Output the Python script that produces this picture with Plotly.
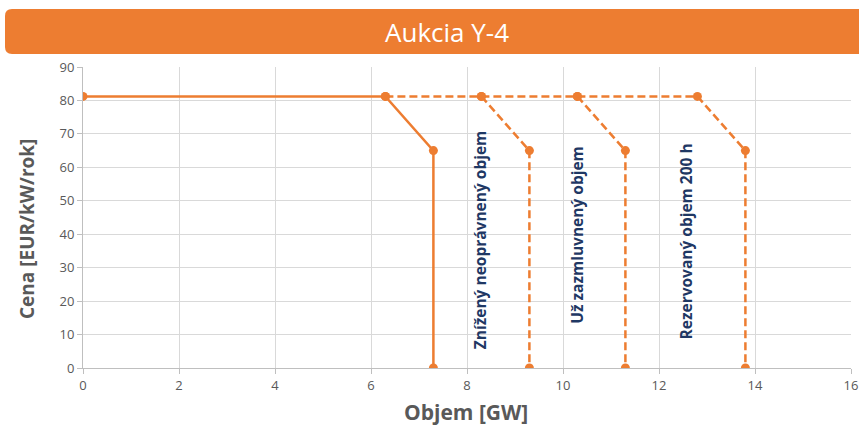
import plotly.graph_objects as go

# Data
base_x = [0, 6.3, 7.3, 7.3]
base_y = [81.2, 81.2, 65, 0]
reduced_x = [6.3, 8.3, 9.3, 9.3]
reduced_y = [81.2, 81.2, 65, 0]
contracted_x = [8.3, 10.3, 11.3, 11.3]
contracted_y = [81.2, 81.2, 65, 0]
reserved_x = [10.3, 12.8, 13.8, 13.8]
reserved_y = [81.2, 81.2, 65, 0]

label_texts = ["Znížený neoprávnený objem", "Už zazmluvnený objem", "Rezervovaný objem 200 h"]
label_x = [8.27, 10.29, 12.56]
label_y = [38.5, 39.8, 37.8]

title_text = "Aukcia Y-4"
x_title = "Objem [GW]"
y_title = "Cena [EUR/kW/rok]"

ORANGE = "#ED7D31"
NAVY = "#1F3864"
GRAY = "#595959"
FONT = "Open Sans, sans-serif"

fig = go.Figure()

def add_series(xs, ys, dash):
    fig.add_trace(go.Scatter(
        x=xs, y=ys, mode="lines+markers",
        line=dict(color=ORANGE, width=2.5, dash=dash),
        marker=dict(color=ORANGE, size=9),
        showlegend=False, hoverinfo="x+y"))

add_series(reserved_x, reserved_y, "8px,4px")
add_series(contracted_x, contracted_y, "8px,4px")
add_series(reduced_x, reduced_y, "8px,4px")
add_series(base_x, base_y, "solid")

W, H = 859, 425
L, R, T, B = 83, 8, 67, 57
pw = W - L - R
ph = H - T - B

def px(x):
    return (x - L) / pw

def py(y):
    return (H - B - y) / ph

# Rounded title bar
x0, x1 = px(5), px(875)
y0, y1 = py(54), py(9)
rx, ry = 7 / pw, 7 / ph
path = (f"M {x0+rx},{y1} L {x1-rx},{y1} Q {x1},{y1} {x1},{y1-ry} "
        f"L {x1},{y0+ry} Q {x1},{y0} {x1-rx},{y0} L {x0+rx},{y0} "
        f"Q {x0},{y0} {x0},{y0+ry} L {x0},{y1-ry} Q {x0},{y1} {x0+rx},{y1} Z")
fig.add_shape(type="path", path=path, xref="paper", yref="paper",
              fillcolor=ORANGE, line=dict(width=0), layer="above")

annotations = [
    dict(text=title_text, x=px(447), y=py(32), xref="paper", yref="paper",
         showarrow=False, xanchor="center", yanchor="middle",
         font=dict(family=FONT, size=26, color="white")),
    dict(text=f"<b>{x_title}</b>", x=px(466), y=py(412), xref="paper", yref="paper",
         showarrow=False, xanchor="center", yanchor="middle",
         font=dict(family=FONT, size=21, color=GRAY)),
    dict(text=f"<b>{y_title}</b>", x=px(27), y=py(229), xref="paper", yref="paper",
         showarrow=False, xanchor="center", yanchor="middle", textangle=-90,
         font=dict(family=FONT, size=19, color=GRAY)),
]
for t, lx, ly in zip(label_texts, label_x, label_y):
    annotations.append(dict(text=f"<b>{t}</b>", x=lx, y=ly, xref="x", yref="y",
                            showarrow=False, textangle=-90,
                            xanchor="center", yanchor="middle",
                            font=dict(family=FONT, size=15.5, color=NAVY)))

axis_common = dict(showgrid=True, gridcolor="#D9D9D9", gridwidth=1, zeroline=False,
                   showline=True, linecolor="#BFBFBF", ticks="outside", ticklen=5,
                   tickcolor="#BFBFBF", tickfont=dict(family=FONT, size=13, color=GRAY),
                   fixedrange=True, automargin=False)

fig.update_layout(
    width=W, height=H,
    margin=dict(l=L, r=R, t=T, b=B, autoexpand=False),
    paper_bgcolor="white", plot_bgcolor="white",
    annotations=annotations,
    xaxis=dict(range=[0, 16], dtick=2, tick0=0, **axis_common),
    yaxis=dict(range=[0, 90], dtick=10, tick0=0, **axis_common),
)
fig.write_html("out.html", config={"displayModeBar": False},
               post_script="document.body.style.margin='0';")
